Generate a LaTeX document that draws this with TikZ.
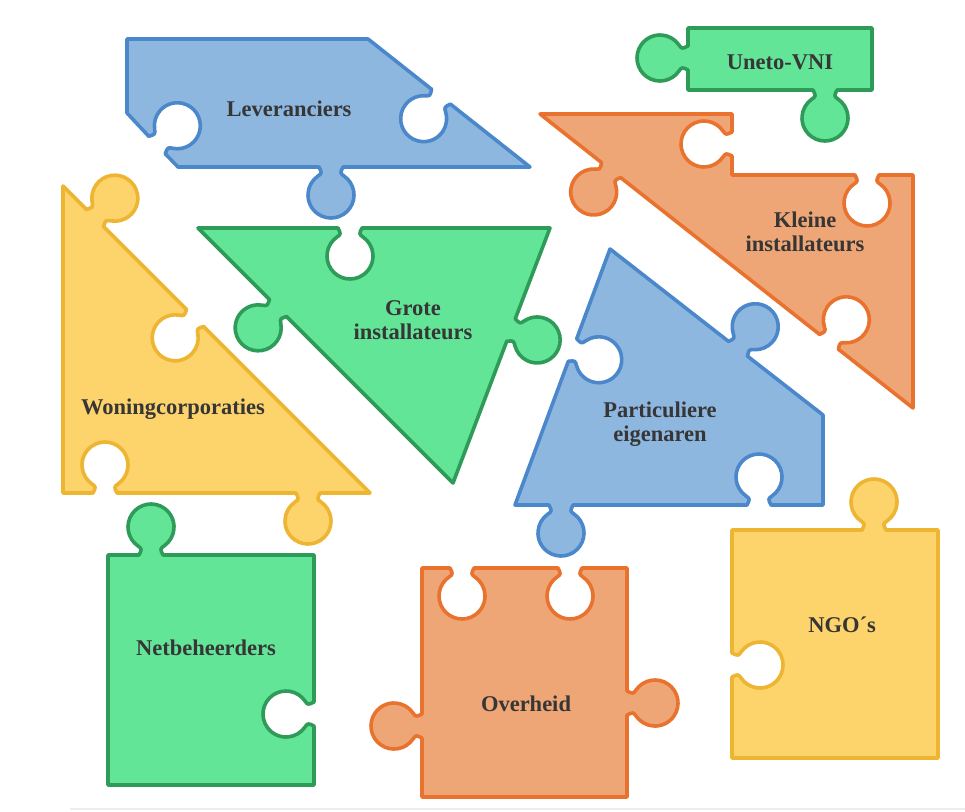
\documentclass[tikz,border=0pt]{standalone}
\usepackage{fontspec}
\setmainfont{Liberation Serif}
\usetikzlibrary{calc}
\definecolor{bfill}{HTML}{8EB7E0}
\definecolor{bline}{HTML}{4A88CB}
\definecolor{gfill}{HTML}{63E598}
\definecolor{gline}{HTML}{2E9B58}
\definecolor{yfill}{HTML}{FDD36C}
\definecolor{yline}{HTML}{EDB532}
\definecolor{ofill}{HTML}{EFA677}
\definecolor{oline}{HTML}{E9722F}
\definecolor{txt}{HTML}{363636}
% knob: #1,#2 centre on edge, #3 travel direction, #4 = -1 knob out, +1 hole in (clockwise traversal)
\newcommand\kn[4]{%
 -- ($(#1,#2)+({#3}:-12)$)
 .. controls ($(#1,#2)+({#3}:-9)+({#3+#4*90}:6)$) and ($(#1,#2)+({#3+#4*90}:28)+({#3+#4*90+#4*145}:23)+({#3+#4*90-#4*125}:5)$) ..
 ($(#1,#2)+({#3+#4*90}:28)+({#3+#4*90+#4*145}:23)$)
 arc[start angle={#3+#4*90+#4*145}, end angle={#3+#4*90-#4*145}, radius=23]
 .. controls ($(#1,#2)+({#3+#4*90}:28)+({#3+#4*90-#4*145}:23)+({#3+#4*90+#4*125}:5)$) and ($(#1,#2)+({#3}:9)+({#3+#4*90}:6)$) ..
 ($(#1,#2)+({#3}:12)$)}
\begin{document}
\begin{tikzpicture}[x=1pt,y=-1pt,
  piece/.style={line width=3.6pt, line join=round},
  bluep/.style={piece, fill=bfill, draw=bline},
  greenp/.style={piece, fill=gfill, draw=gline},
  yellowp/.style={piece, fill=yfill, draw=yline},
  orangep/.style={piece, fill=ofill, draw=oline},
  lbl/.style={text=txt, align=center, font=\fontsize{22.5}{23.5}\selectfont\bfseries, inner sep=0pt}]
\useasboundingbox (0,0) rectangle (965,811);
\fill[white] (0,0) rectangle (965,811);
\draw[black!7, line width=1.5pt] (70,809) -- (965,809);
% Leveranciers
\draw[bluep] (127,39) -- (368,39) \kn{441}{96.7}{38.3}{1} -- (530,167) \kn{331}{167}{180}{-1} -- (178,167) \kn{157}{145}{226.6}{1} -- (127,113) -- cycle;
% Uneto-VNI
\draw[greenp] (688,28) -- (872,28) -- (872,90) \kn{825}{90}{180}{-1} -- (688,90) \kn{688}{58}{270}{-1} -- cycle;
% Kleine installateurs
\draw[orangep] (540,114) -- (732,114) \kn{732}{144}{90}{1} -- (732,175) \kn{867}{175}{0}{1} -- (913,175) -- (913,408) \kn{829}{341.8}{218.2}{1} \kn{611}{170}{218.2}{-1} -- cycle;
% Woningcorporaties
\draw[yellowp] (63,186) \kn{95}{218}{45}{-1} \kn{195}{318}{45}{1} -- (370,493) \kn{308}{493}{180}{-1} \kn{105}{493}{180}{1} -- (63,493) -- cycle;
% Grote installateurs
\draw[greenp] (198,228) \kn{350}{228}{0}{1} -- (550,228) \kn{511}{330}{110.8}{-1} -- (453,483) \kn{278}{308}{225}{-1} -- cycle;
% Particuliere eigenaren
\draw[bluep] (610,249) \kn{738}{348.8}{37.9}{-1} -- (823,415) -- (823,505) \kn{759}{505}{180}{1} \kn{561}{505}{180}{-1} -- (515,505) \kn{572.5}{350}{-69.6}{1} -- cycle;
% Netbeheerders
\draw[greenp] (108,555) \kn{151}{555}{0}{-1} -- (314,555) \kn{314}{714}{90}{1} -- (314,785) -- (108,785) -- cycle;
% Overheid
\draw[orangep] (422,568) \kn{462}{568}{0}{1} \kn{570}{568}{0}{1} -- (627,568) \kn{627}{703}{90}{-1} -- (627,797) -- (422,797) \kn{422}{726}{270}{-1} -- cycle;
% NGO's
\draw[yellowp] (732,530) \kn{874}{530}{0}{-1} -- (938,530) -- (938,758) -- (732,758) \kn{732}{665}{270}{1} -- cycle;
% labels
\node[lbl] (lev) at (289,109) {Leveranciers};
\node[lbl] (une) at (780,62) {Uneto-VNI};
\node[lbl] (kle) at (805,232) {Kleine\\installateurs};
\node[lbl] (gro) at (413,320) {Grote\\installateurs};
\node[lbl] (won) at (173,409) {Woningcorporaties};
\node[lbl] (par) at (660,424) {Particuliere\\eigenaren};
\node[lbl] (net) at (206,648) {Netbeheerders};
\node[lbl] (ove) at (526,704) {Overheid};
\node[lbl] (ngo) at (842,625) {NGO´s};
\end{tikzpicture}
\end{document}
